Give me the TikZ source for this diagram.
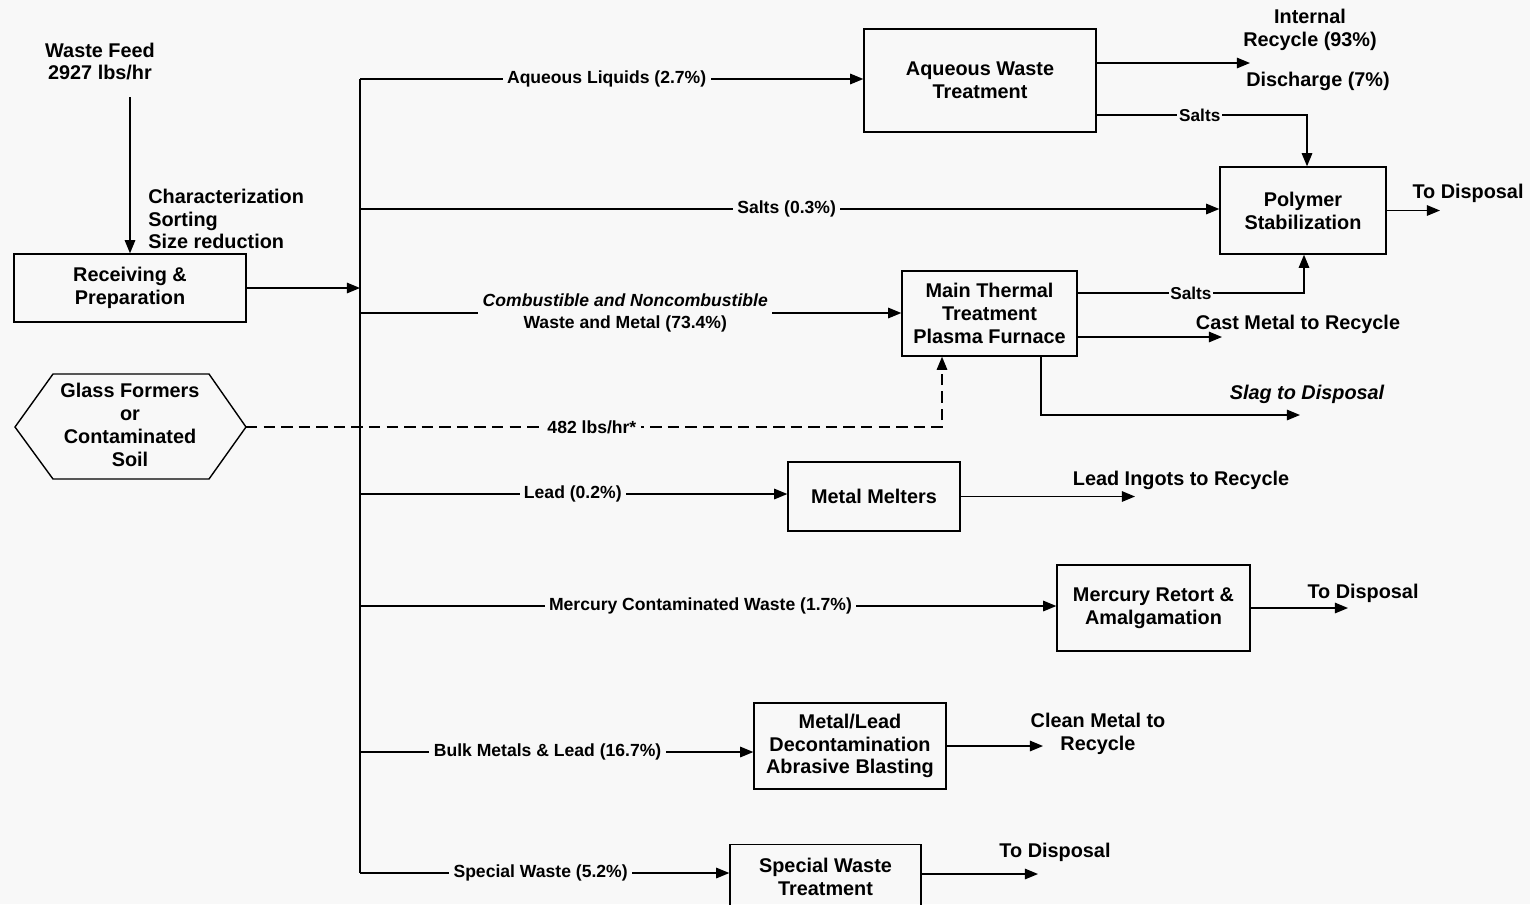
\documentclass[tikz,border=0pt]{standalone}
\usepackage{fontspec}
\setmainfont{Liberation Sans}
\usetikzlibrary{arrows.meta}
\definecolor{bg}{RGB}{248,248,248}
\begin{document}
\begin{tikzpicture}[x=0.02cm,y=0.02cm,
  box/.style={draw, line width=0.8pt, inner sep=0pt, align=center, font=\fontsize{11.3}{13}\selectfont\bfseries},
  txt/.style={inner sep=0pt, align=center, font=\fontsize{11.3}{13}\selectfont\bfseries},
  lbl/.style={fill=bg, inner xsep=2.5pt, inner ysep=1pt, align=center, font=\fontsize{10}{12.5}\selectfont\bfseries},
  saltlbl/.style={fill=bg, inner xsep=1pt, inner ysep=1pt, font=\fontsize{9.8}{12}\selectfont\bfseries},
  arr/.style={-{Triangle[length=7.5pt,width=6pt]}, line width=0.8pt},
  ln/.style={line width=0.8pt},
  dsh/.style={dash pattern=on 6.5pt off 3.5pt}
]
\fill[bg] (0,0) rectangle (1530,-904);
\useasboundingbox (0,0) rectangle (1530,-904);

% free texts
\node[txt] (wf) at (100,-61.5) {Waste Feed\\2927 lbs/hr};
\node[txt, anchor=west, align=left] (char) at (148,-219) {Characterization\\Sorting\\Size reduction};

% boxes
\node[box, minimum width=4.64cm, minimum height=1.36cm] (recv) at (130,-288) {Receiving \&\\Preparation};
\node[box, minimum width=4.64cm, minimum height=2.06cm] (aq) at (980,-80.5) {Aqueous Waste\\Treatment};
\node[box, minimum width=3.32cm, minimum height=1.74cm] (poly) at (1303,-210.5) {Polymer\\Stabilization};
\node[box, minimum width=3.5cm, minimum height=1.7cm] (therm) at (989.5,-313.5) {Main Thermal\\Treatment\\Plasma Furnace};
\node[box, minimum width=3.44cm, minimum height=1.38cm] (melt) at (874,-496.5) {Metal Melters};
\node[box, minimum width=3.86cm, minimum height=1.72cm] (merc) at (1153.5,-608) {Mercury Retort \&\\Amalgamation};
\node[box, minimum width=3.84cm, minimum height=1.72cm] (dec) at (850,-746) {Metal/Lead\\Decontamination\\Abrasive Blasting};
\node[box, minimum width=3.82cm, minimum height=1.3cm] (spec) at (825.5,-877) {Special Waste\\Treatment};

% hexagon
\node[txt] (glass) at (130,-425) {Glass Formers\\or\\Contaminated\\Soil};
\draw[ln] (15,-427) -- (53,-374) -- (209,-374) -- (246,-427) -- (209,-479) -- (53,-479) -- cycle;
\coordinate (glassE) at (246,-427);

% output texts
\node[txt] (intrec) at (1310,-29.5) {Internal\\Recycle (93\%)};
\node[txt] (disch) at (1318,-81) {Discharge (7\%)};
\node[txt] (todisp1) at (1468,-193) {To Disposal};
\node[txt] (cast) at (1298,-324) {Cast Metal to Recycle};
\node[txt, font=\fontsize{11.3}{13}\selectfont\bfseries\itshape] (slag) at (1307,-394) {Slag to Disposal};
\node[txt] (ingots) at (1181,-480) {Lead Ingots to Recycle};
\node[txt] (todisp2) at (1363,-593) {To Disposal};
\node[txt] (clean) at (1098,-733.5) {Clean Metal to\\Recycle};
\node[txt] (todisp3) at (1055,-852) {To Disposal};

% coordinates
\coordinate (wfS) at (130,-97);
\coordinate (b1) at (360,-79);
\coordinate (b2) at (360,-209);
\coordinate (b3) at (360,-313);
\coordinate (b4) at (360,-494);
\coordinate (b5) at (360,-606);
\coordinate (b6) at (360,-752);
\coordinate (b7) at (360,-873);
\coordinate (recyE) at (1250,-63);
\coordinate (saltAq) at (1307,-115);
\coordinate (polyE) at (1440,-210.5);
\coordinate (tsalt) at (1304,-293);
\coordinate (castE) at (1222,-337);
\coordinate (slagC) at (1041,-415);
\coordinate (slagE) at (1300,-415);
\coordinate (leadE) at (1135,-496.5);
\coordinate (mercE) at (1348,-608);
\coordinate (decE) at (1043,-746);
\coordinate (specE) at (1038,-874);
\coordinate (dC) at (942,-427);

% connectors
\draw[arr] (wfS) -- (recv.north);
\draw[ln] (b1) -- (b7);
\draw[arr] (recv.east) -- (recv.east -| b1);

\draw[arr] (b1) -- node[lbl, pos=0.49] {Aqueous Liquids (2.7\%)} (b1 -| aq.west);
\draw[arr] (b2) -- node[lbl, pos=0.4965] {Salts (0.3\%)} (b2 -| poly.west);
\draw[arr] (b3) -- node[lbl, pos=0.49] {\itshape Combustible and Noncombustible\\Waste and Metal (73.4\%)} (b3 -| therm.west);
\draw[arr] (b4) -- node[lbl, pos=0.498] {Lead (0.2\%)} (b4 -| melt.west);
\draw[arr] (b5) -- node[lbl, pos=0.489] {Mercury Contaminated Waste (1.7\%)} (b5 -| merc.west);
\draw[arr] (b6) -- node[lbl, pos=0.477] {Bulk Metals \& Lead (16.7\%)} (b6 -| dec.west);
\draw[arr] (b7) -- node[lbl, pos=0.489] {Special Waste (5.2\%)} (b7 -| spec.west);

\draw[arr, dsh] (glassE) -- node[lbl, pos=0.497] {482 lbs/hr*} (dC) -- (dC |- therm.south);

\draw[arr] (aq.east |- recyE) -- (recyE);
\draw[arr] (aq.east |- saltAq) -- node[saltlbl, pos=0.49] {Salts} (saltAq) -- (saltAq |- poly.north);
\draw[arr] (poly.east) -- (polyE);
\draw[arr] (therm.east |- tsalt) -- node[saltlbl, pos=0.5] {Salts} (tsalt) -- (tsalt |- poly.south);
\draw[arr] (therm.east |- castE) -- (castE);
\draw[arr] (slagC |- therm.south) -- (slagC) -- (slagE);
\draw[arr] (melt.east |- leadE) -- (leadE);
\draw[arr] (merc.east |- mercE) -- (mercE);
\draw[arr] (dec.east |- decE) -- (decE);
\draw[arr] (spec.east |- specE) -- (specE);
\end{tikzpicture}
\end{document}
